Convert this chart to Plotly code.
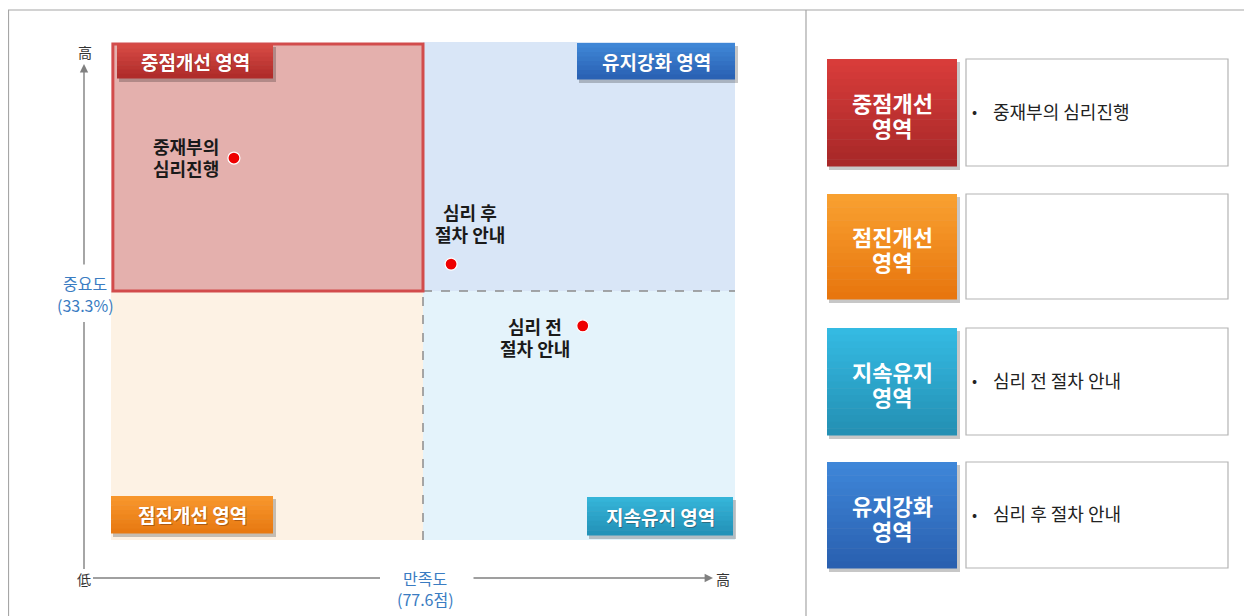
import plotly.graph_objects as go

# page renders the figure with an 8px body margin, so the figure is 8px smaller
OFF = 8
W, H = 1252 - OFF, 616 - OFF

# ---------------- data ----------------
item_labels = ["중재부의<br>심리진행", "심리 후<br>절차 안내", "심리 전<br>절차 안내"]
satisfaction = [19.7, 54.5, 75.6]   # relative scale, 50 = average 만족도 (77.6점)
importance = [76.7, 55.4, 43.0]     # relative scale, 50 = average 중요도 (33.3%)
x_mid = 50
y_mid = 50
x_axis_title = "만족도<br>(77.6점)"
y_axis_title = "중요도<br>(33.3%)"
quadrant_names = ["중점개선 영역", "유지강화 영역", "점진개선 영역", "지속유지 영역"]
legend_zones = ["중점개선<br>영역", "점진개선<br>영역", "지속유지<br>영역", "유지강화<br>영역"]
legend_items = ["중재부의 심리진행", "", "심리 전 절차 안내", "심리 후 절차 안내"]

FONT = "Noto Sans CJK KR"


def PX(x):
    return (x - OFF) / W


def PY(y):
    return 1 - (y - OFF) / H


fig = go.Figure()
shapes = []
annos = []

# outer frame and divider
shapes.append(dict(type="rect", xref="paper", yref="paper", x0=PX(8.5), x1=PX(1251), y0=PY(640), y1=PY(10),
                   line=dict(color="#a6a6a6", width=1.2), fillcolor="rgba(0,0,0,0)", layer="below"))
shapes.append(dict(type="line", xref="paper", yref="paper", x0=PX(806), x1=PX(806), y0=PY(640), y1=PY(10),
                   line=dict(color="#a6a6a6", width=1.2), layer="below"))

# quadrant backgrounds (data coords)
shapes += [
    dict(type="rect", xref="x", yref="y", x0=x_mid, x1=100, y0=y_mid, y1=100, fillcolor="#d9e6f7",
         line=dict(width=0), layer="below"),
    dict(type="rect", xref="x", yref="y", x0=0, x1=x_mid, y0=0, y1=y_mid, fillcolor="#fdf2e4",
         line=dict(width=0), layer="below"),
    dict(type="rect", xref="x", yref="y", x0=x_mid, x1=100, y0=0, y1=y_mid, fillcolor="#e4f3fb",
         line=dict(width=0), layer="below"),
    dict(type="line", xref="x", yref="y", x0=x_mid, x1=x_mid, y0=0, y1=y_mid,
         line=dict(color="#8c8c8c", width=1.5, dash="dash"), layer="below"),
    dict(type="line", xref="x", yref="y", x0=x_mid, x1=100, y0=y_mid, y1=y_mid,
         line=dict(color="#8c8c8c", width=1.5, dash="dash"), layer="below"),
    dict(type="rect", xref="x", yref="y", x0=0.3, x1=x_mid, y0=y_mid, y1=99.6, fillcolor="#e4b0ad",
         line=dict(color="#d24c4c", width=3), layer="below"),
]


def gradient_box(x0, y0, x1, y1, top, bottom, n=14, shadow=True, layer="below"):
    out = []
    if shadow:
        out.append(dict(type="rect", xref="paper", yref="paper", x0=PX(x0 + 2), x1=PX(x1 + 3),
                        y0=PY(y1 + 4), y1=PY(y0 + 3), fillcolor="rgba(0,0,0,0.22)",
                        line=dict(width=0), layer=layer))

    def h2r(h):
        h = h.lstrip("#")
        return [int(h[i:i + 2], 16) for i in (0, 2, 4)]
    a, b = h2r(top), h2r(bottom)
    for i in range(n):
        t = i / (n - 1)
        c = [round(a[k] + (b[k] - a[k]) * t) for k in range(3)]
        ya = y0 + (y1 - y0) * i / n
        yb = y0 + (y1 - y0) * (i + 1) / n
        out.append(dict(type="rect", xref="paper", yref="paper", x0=PX(x0), x1=PX(x1),
                        y0=PY(yb + 0.5), y1=PY(ya), fillcolor="rgb(%d,%d,%d)" % tuple(c),
                        line=dict(width=0), layer=layer))
    return out


def lines_at(text, spacing, **kw):
    """one annotation per line, lines `spacing` px apart, block centred on the anchor (+yshift)."""
    parts = text.split("<br>")
    n = len(parts)
    base = kw.pop("yshift", 0)
    bold = kw.pop("bold", False)
    out = []
    for i, p in enumerate(parts):
        off = ((n - 1) / 2 - i) * spacing
        out.append(dict(text=("<b>%s</b>" % p) if bold else p, showarrow=False, yanchor="middle",
                        yshift=base + off, **kw))
    return out


# quadrant label boxes
qboxes = [
    (117, 44, 273, 78, "#d64a44", "#b02c2a"),
    (577, 43, 735, 79, "#3f86d6", "#2a62b4"),
    (111, 496, 273, 533, "#f7962c", "#e87a12"),
    (587, 497, 733, 535, "#35b4d8", "#2392b8"),
]
for (x0, y0, x1, y1, c0, c1), name in zip(qboxes, quadrant_names):
    shapes += gradient_box(x0, y0, x1, y1, c0, c1, n=8, layer="above")
    annos.append(dict(xref="paper", yref="paper", x=PX((x0 + x1) / 2 + 1), y=PY((y0 + y1) / 2 + 1),
                      text="<b>%s</b>" % name, showarrow=False, xanchor="center", yanchor="middle",
                      font=dict(family=FONT, size=19, color="rgba(60,20,10,0.35)")))
    annos.append(dict(xref="paper", yref="paper", x=PX((x0 + x1) / 2), y=PY((y0 + y1) / 2),
                      text="<b>%s</b>" % name, showarrow=False, xanchor="center", yanchor="middle",
                      font=dict(family=FONT, size=19, color="white")))

# axes arrows
annos.append(dict(xref="paper", yref="paper", x=PX(84), y=PY(64), ax=0, ay=202, axref="pixel", ayref="pixel",
                  text="", showarrow=True, arrowhead=2, arrowsize=1.2, arrowwidth=1.4, arrowcolor="#808080",
                  standoff=0))
shapes.append(dict(type="line", xref="paper", yref="paper", x0=PX(84), x1=PX(84), y0=PY(569), y1=PY(322),
                   line=dict(color="#808080", width=1.4)))
shapes.append(dict(type="line", xref="paper", yref="paper", x0=PX(93), x1=PX(380), y0=PY(578), y1=PY(578),
                   line=dict(color="#808080", width=1.4)))
annos.append(dict(xref="paper", yref="paper", x=PX(713), y=PY(578), ax=-241, ay=0, axref="pixel", ayref="pixel",
                  text="", showarrow=True, arrowhead=2, arrowsize=1.2, arrowwidth=1.4, arrowcolor="#808080",
                  standoff=0))
for x, y, t in [(85, 52, "高"), (84, 579, "低"), (723, 579, "高")]:
    annos.append(dict(xref="paper", yref="paper", x=PX(x), y=PY(y), text=t, showarrow=False,
                      xanchor="center", yanchor="middle", font=dict(family=FONT, size=14, color="#333333")))
annos += lines_at(y_axis_title, 22, xref="paper", yref="paper", x=PX(85), y=PY(294), xanchor="center",
                  font=dict(family=FONT, size=16, color="#3a7cc2"))
annos += lines_at(x_axis_title, 21, xref="paper", yref="paper", x=PX(425), y=PY(588), xanchor="center",
                  font=dict(family=FONT, size=16, color="#3a7cc2"))

# point labels (offsets from each point, in pixels)
label_pos = [
    dict(xanchor="right", xshift=-13, yshift=1),
    dict(xanchor="center", xshift=19, yshift=41),
    dict(xanchor="center", xshift=-48, yshift=-11),
]
for xv, yv, t, p in zip(satisfaction, importance, item_labels, label_pos):
    annos += lines_at(t, 22, xref="x", yref="y", x=xv, y=yv, bold=True,
                      font=dict(family=FONT, size=18, color="#1a1a1a"), **p)

fig.add_trace(go.Scatter(x=satisfaction, y=importance, mode="markers",
                         marker=dict(size=12, color="#ee0000", line=dict(color="white", width=1.2)),
                         hoverinfo="skip", showlegend=False))

# right-side legend panel
lboxes = [
    (59, 166, "#d83c3a", "#a82828"),
    (194, 299, "#f8a030", "#e8760e"),
    (328, 435, "#34bae2", "#2490b4"),
    (462, 568, "#3e86d8", "#2a60b0"),
]
for (y0, y1, c0, c1), z, it in zip(lboxes, legend_zones, legend_items):
    shapes += gradient_box(827, y0, 957, y1, c0, c1, n=16)
    annos += lines_at(z, 25, xref="paper", yref="paper", x=PX(892), y=PY((y0 + y1) / 2 + 2),
                      xanchor="center", bold=True, font=dict(family=FONT, size=22, color="white"))
    shapes.append(dict(type="rect", xref="paper", yref="paper", x0=PX(966), x1=PX(1228), y0=PY(y1), y1=PY(y0),
                       fillcolor="white", line=dict(color="#b4b4b4", width=1.2), layer="below"))
    if it:
        annos.append(dict(xref="paper", yref="paper", x=PX(970), y=PY((y0 + y1) / 2 - 2), text="•",
                          showarrow=False, xanchor="left", yanchor="middle",
                          font=dict(family=FONT, size=15, color="#222222")))
        annos.append(dict(xref="paper", yref="paper", x=PX(991), y=PY((y0 + y1) / 2 - 2), text=it,
                          showarrow=False, xanchor="left", yanchor="middle",
                          font=dict(family=FONT, size=18, color="#222222")))

fig.update_layout(
    width=W, height=H, margin=dict(l=0, r=0, t=0, b=0),
    paper_bgcolor="white", plot_bgcolor="rgba(0,0,0,0)",
    xaxis=dict(domain=[PX(111), PX(735)], range=[0, 100], visible=False, fixedrange=True),
    yaxis=dict(domain=[PY(540), PY(42)], range=[0, 100], visible=False, fixedrange=True),
    shapes=shapes, annotations=annos, showlegend=False,
    font=dict(family=FONT),
)

fig.write_html("out.html")
